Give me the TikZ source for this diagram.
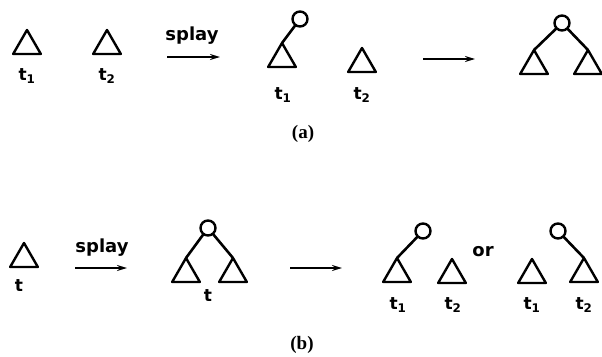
\documentclass[tikz,border=0pt]{standalone}
\usepackage{fontspec}
\setmainfont{DejaVu Sans}
\newfontfamily\capfont{Liberation Serif}
\usetikzlibrary{shapes.geometric,arrows.meta}
\tikzset{
  tri/.style={draw, line width=2.4pt, line join=round, regular polygon, regular polygon sides=3,
    minimum size=32pt, inner sep=0pt, outer sep=0pt, anchor=corner 1},
  rootc/.style={draw, line width=2.4pt, circle, minimum size=15pt, inner sep=0pt, outer sep=0pt},
  link/.style={line width=2.6pt},
  lab/.style={font=\bfseries\fontsize{17}{17}\selectfont, inner sep=0pt},
  word/.style={font=\bfseries\fontsize{18}{18}\selectfont, inner sep=0pt},
  captext/.style={font=\capfont\bfseries\fontsize{19}{19}\selectfont, inner sep=0pt},
  arr/.style={line width=2pt, -{Stealth[length=10pt,width=6pt]}}
}
\begin{document}
\begin{tikzpicture}[x=1pt,y=-1pt]
\useasboundingbox (0,0) rectangle (602,356);
% ---------- (a) ----------
\node[tri] (a1) at (27,30) {};
\node[lab] (la1) at (27,76) {t$_{\mathbf 1}$};
\node[tri] (a2) at (107,30) {};
\node[lab] (la2) at (107,76) {t$_{\mathbf 2}$};
\node[word] (sa) at (192,36) {splay};
\coordinate (sa0) at (167,57);
\coordinate (sa1) at (220,57);
\draw[arr] (sa0) -- (sa1);
\node[rootc] (ac1) at (300,19) {};
\node[tri] (a3) at (282,43) {};
\draw[link] (ac1) -- (a3.corner 1);
\node[lab] (la3) at (283,95) {t$_{\mathbf 1}$};
\node[tri] (a4) at (362,48) {};
\node[lab] (la4) at (362,95) {t$_{\mathbf 2}$};
\coordinate (aa0) at (423,59);
\coordinate (aa1) at (475,59);
\draw[arr] (aa0) -- (aa1);
\node[rootc] (ac2) at (562,23) {};
\node[tri] (a5) at (534,50) {};
\node[tri] (a6) at (588,50) {};
\draw[link] (ac2) -- (a5.corner 1);
\draw[link] (ac2) -- (a6.corner 1);
\node[captext] (capa) at (303,134) {(a)};
% ---------- (b) ----------
\node[tri] (b1) at (24,243) {};
\node[lab] (lb1) at (19,286) {t};
\node[word] (sb) at (102,248) {splay};
\coordinate (sb0) at (75,268);
\coordinate (sb1) at (127,268);
\draw[arr] (sb0) -- (sb1);
\node[rootc] (bc1) at (208,228) {};
\node[tri] (b2) at (186,258) {};
\node[tri] (b3) at (233,258) {};
\draw[link] (bc1) -- (b2.corner 1);
\draw[link] (bc1) -- (b3.corner 1);
\node[lab] (lb2) at (208,296) {t};
\coordinate (ba0) at (290,268);
\coordinate (ba1) at (342,268);
\draw[arr] (ba0) -- (ba1);
\node[rootc] (bc2) at (423,231) {};
\node[tri] (b4) at (397,258) {};
\draw[link] (bc2) -- (b4.corner 1);
\node[lab] (lb4) at (398,305) {t$_{\mathbf 1}$};
\node[tri] (b5) at (452,259) {};
\node[lab] (lb5) at (453,305) {t$_{\mathbf 2}$};
\node[word] (or) at (483,252) {or};
\node[tri] (b6) at (532,259) {};
\node[lab] (lb6) at (532,305) {t$_{\mathbf 1}$};
\node[rootc] (bc3) at (558,231) {};
\node[tri] (b7) at (584,258) {};
\draw[link] (bc3) -- (b7.corner 1);
\node[lab] (lb7) at (584,305) {t$_{\mathbf 2}$};
\node[captext] (capb) at (302,345) {(b)};
\end{tikzpicture}
\end{document}
